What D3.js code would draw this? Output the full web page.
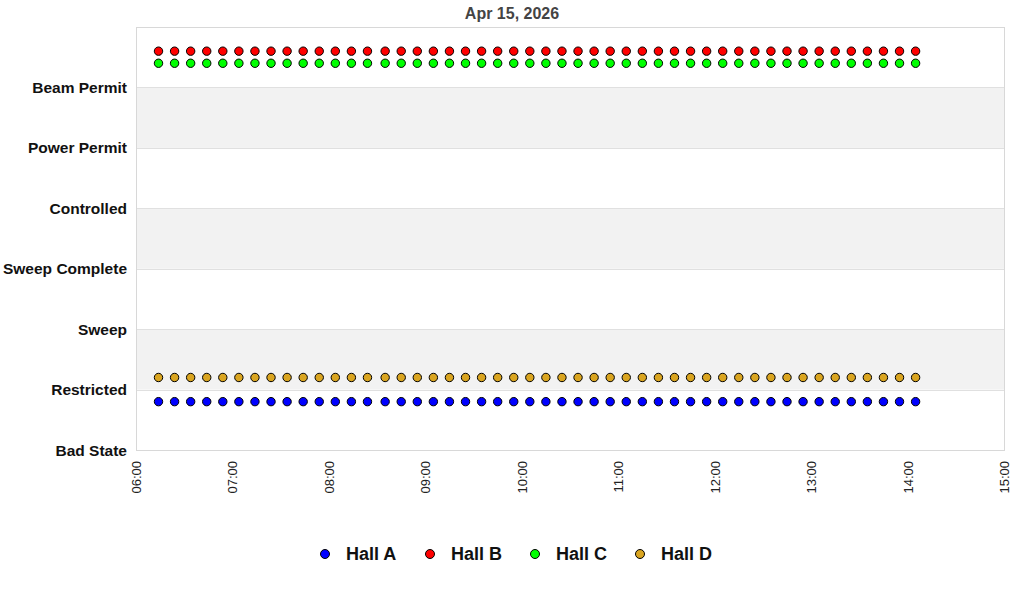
<!DOCTYPE html>
<html>
<head>
<meta charset="utf-8">
<script src="https://cdn.jsdelivr.net/npm/d3@7"></script>
<style>
  body { margin: 0; background: #fff; }
  text { font-family: "Liberation Sans", Arial, sans-serif; }
</style>
</head>
<body>
<svg width="1024" height="600"></svg>
<script>
// state names, bottom to top
var states = ["Bad State", "Restricted", "Sweep", "Sweep Complete", "Controlled", "Power Permit", "Beam Permit"]
var xTicks = ["06:00", "07:00", "08:00", "09:00", "10:00", "11:00", "12:00", "13:00", "14:00", "15:00"]
var halls = ["Hall A", "Hall B", "Hall C", "Hall D"]
var colors = ["#0000ff", "#ff0000", "#00ff00", "#daa520"]

var times = ["06:14","06:24","06:34","06:44","06:54","07:04","07:14","07:24","07:34","07:44","07:54",
  "08:04","08:14","08:24","08:35","08:45","08:55","09:05","09:15","09:25","09:35","09:45","09:55",
  "10:05","10:15","10:25","10:35","10:45","10:55","11:05","11:15","11:25","11:35","11:45","11:55",
  "12:05","12:15","12:25","12:35","12:45","12:55","13:05","13:15","13:25","13:35","13:45","13:55","14:05"]

var hallA = [0.8,0.8,0.8,0.8,0.8,0.8,0.8,0.8,0.8,0.8,0.8,0.8,0.8,0.8,0.8,0.8,0.8,0.8,0.8,0.8,0.8,0.8,0.8,0.8,
  0.8,0.8,0.8,0.8,0.8,0.8,0.8,0.8,0.8,0.8,0.8,0.8,0.8,0.8,0.8,0.8,0.8,0.8,0.8,0.8,0.8,0.8,0.8,0.8]
var hallB = [6.6,6.6,6.6,6.6,6.6,6.6,6.6,6.6,6.6,6.6,6.6,6.6,6.6,6.6,6.6,6.6,6.6,6.6,6.6,6.6,6.6,6.6,6.6,6.6,
  6.6,6.6,6.6,6.6,6.6,6.6,6.6,6.6,6.6,6.6,6.6,6.6,6.6,6.6,6.6,6.6,6.6,6.6,6.6,6.6,6.6,6.6,6.6,6.6]
var hallC = [6.4,6.4,6.4,6.4,6.4,6.4,6.4,6.4,6.4,6.4,6.4,6.4,6.4,6.4,6.4,6.4,6.4,6.4,6.4,6.4,6.4,6.4,6.4,6.4,
  6.4,6.4,6.4,6.4,6.4,6.4,6.4,6.4,6.4,6.4,6.4,6.4,6.4,6.4,6.4,6.4,6.4,6.4,6.4,6.4,6.4,6.4,6.4,6.4]
var hallD = [1.2,1.2,1.2,1.2,1.2,1.2,1.2,1.2,1.2,1.2,1.2,1.2,1.2,1.2,1.2,1.2,1.2,1.2,1.2,1.2,1.2,1.2,1.2,1.2,
  1.2,1.2,1.2,1.2,1.2,1.2,1.2,1.2,1.2,1.2,1.2,1.2,1.2,1.2,1.2,1.2,1.2,1.2,1.2,1.2,1.2,1.2,1.2,1.2]

var series = [hallA, hallB, hallC, hallD]

var svg = d3.select("svg")
var plotLeft = 136, plotRight = 1004, plotTop = 27, plotBottom = 450

var parse = d3.timeParse("%H:%M")
var x = d3.scaleTime()
    .domain([parse(xTicks[0]), parse(xTicks[xTicks.length - 1])])
    .range([plotLeft, plotRight])
var y = d3.scaleLinear()
    .domain([0, states.length])
    .range([plotBottom, plotTop])

// bands
svg.append("g").selectAll("rect")
    .data(d3.range(states.length))
    .join("rect")
    .attr("x", plotLeft)
    .attr("width", plotRight - plotLeft)
    .attr("y", function(d) { return y(d + 1) })
    .attr("height", function(d) { return y(d) - y(d + 1) })
    .attr("fill", function(d) { return d % 2 == 1 ? "#f2f2f2" : "#fff" })

// grid lines
svg.append("g").selectAll("line")
    .data(d3.range(1, states.length))
    .join("line")
    .attr("x1", plotLeft).attr("x2", plotRight)
    .attr("y1", function(d) { return Math.round(y(d)) + 0.5 })
    .attr("y2", function(d) { return Math.round(y(d)) + 0.5 })
    .attr("stroke", "#e0e0e0")

svg.append("rect")
    .attr("x", plotLeft + 0.5).attr("y", plotTop + 0.5)
    .attr("width", plotRight - plotLeft).attr("height", plotBottom - plotTop)
    .attr("fill", "none")
    .attr("stroke", "#d8d8d8")

// y labels
svg.append("g").selectAll("text")
    .data(states)
    .join("text")
    .attr("x", 127)
    .attr("y", function(d, i) { return y(i) })
    .attr("dy", "0.36em")
    .attr("text-anchor", "end")
    .attr("font-size", "15.5px")
    .attr("font-weight", "bold")
    .attr("fill", "#111")
    .text(function(d) { return d })

// x labels
svg.append("g").selectAll("text")
    .data(xTicks)
    .join("text")
    .attr("transform", function(d) { return "translate(" + (x(parse(d)) + 5) + ",461) rotate(-90)" })
    .attr("text-anchor", "end")
    .attr("font-size", "13px")
    .attr("fill", "#222")
    .text(function(d) { return d })

// points
series.forEach(function(vals, s) {
    svg.append("g").selectAll("circle")
        .data(vals)
        .join("circle")
        .attr("cx", function(d, i) { return x(parse(times[i])) })
        .attr("cy", function(d) { return y(d) })
        .attr("r", 4.2)
        .attr("fill", colors[s])
        .attr("stroke", "#000")
        .attr("stroke-width", 1)
})

// title
svg.append("text")
    .attr("x", 512).attr("y", 19)
    .attr("text-anchor", "middle")
    .attr("font-size", "16px")
    .attr("font-weight", "bold")
    .attr("fill", "#444")
    .text("Apr 15, 2026")

// legend
var legX = [325, 430, 535, 640]
var leg = svg.append("g").selectAll("g")
    .data(halls)
    .join("g")
    .attr("transform", function(d, i) { return "translate(" + legX[i] + ",554)" })
leg.append("circle")
    .attr("r", 4.5)
    .attr("fill", function(d, i) { return colors[i] })
    .attr("stroke", "#000")
leg.append("text")
    .attr("x", 21).attr("dy", "0.35em")
    .attr("font-size", "18px")
    .attr("font-weight", "bold")
    .attr("fill", "#111")
    .text(function(d) { return d })
</script>
</body>
</html>
